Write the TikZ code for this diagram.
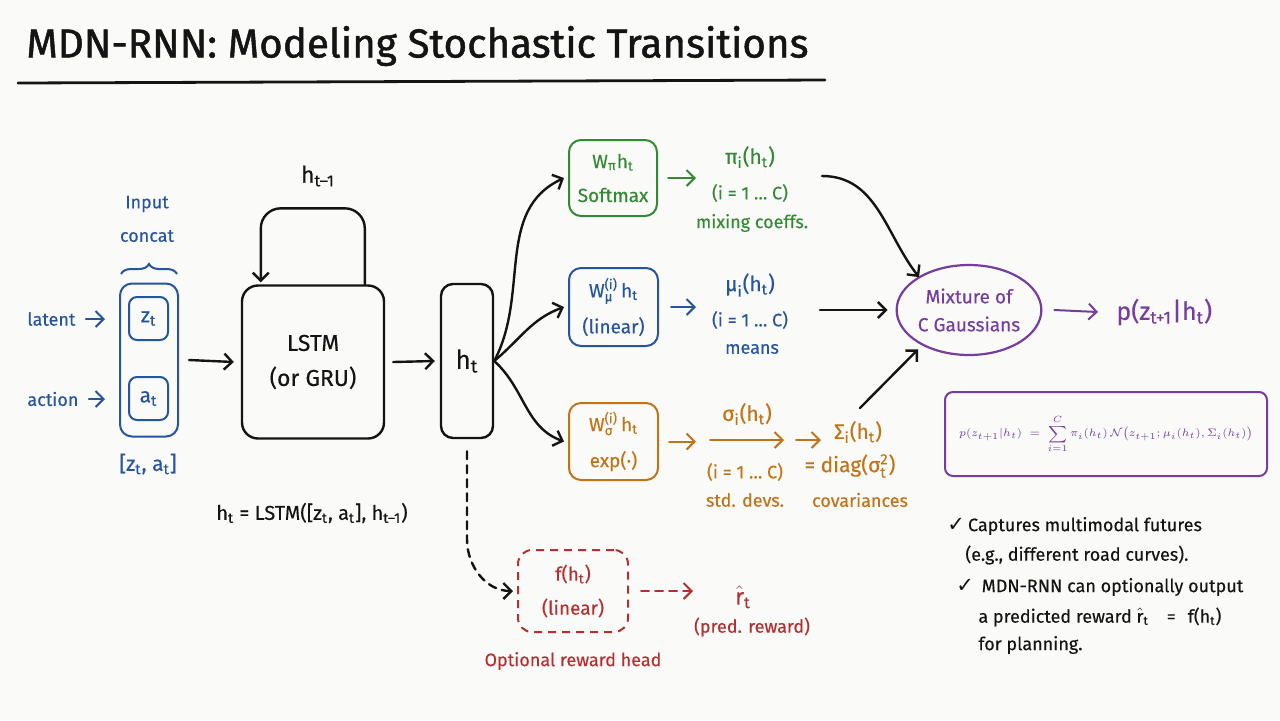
\documentclass[tikz,border=0pt]{standalone}
\usepackage{fontspec}
\usepackage{amsmath}
\setmainfont{Fira Sans}[FakeBold=0.3]
\newfontfamily\titlefont{Fira Sans}[FakeBold=1.2]
\newfontfamily\dejavu{DejaVu Sans}
\usetikzlibrary{arrows.meta,decorations.pathreplacing,shapes.geometric,calc}
\definecolor{bgc}{RGB}{250,250,249}
\definecolor{blueC}{RGB}{38,84,158}
\definecolor{greenC}{RGB}{52,138,52}
\definecolor{orangeC}{RGB}{192,116,22}
\definecolor{redC}{RGB}{180,48,48}
\definecolor{purpleC}{RGB}{118,60,158}
\definecolor{inkC}{RGB}{20,20,20}
\newcommand\ssub[2]{\ensuremath{\text{#1}_{\text{#2}}}}
\newcommand\chk{{\dejavu\fontsize{10.5}{11}\selectfont ✓}}
\begin{document}
\begin{tikzpicture}[x=0.5pt,y=-0.5pt,
  ln/.style={line width=1.2pt,line cap=round,draw=inkC},
  arr/.style={ln,-{Straight Barb[length=4pt,width=8pt]}},
  carr/.style={line width=1pt,line cap=round,draw=#1,-{Straight Barb[length=4pt,width=8pt]}},
  cbox/.style={draw=#1,text=#1,line width=1pt,rounded corners=6pt,align=center,inner sep=0pt},
  lbl/.style={text=#1,font=\fontsize{9}{11}\selectfont,inner sep=0pt},
  body/.style={font=\fontsize{9}{11}\selectfont,inner sep=0pt,text=inkC}
]
\useasboundingbox[fill=bgc] (0,0) rectangle (1280,720);

% title
\node[anchor=west,inner sep=0pt,font=\titlefont\fontsize{20.2}{24}\selectfont,text=inkC] (title) at (26,46) {MDN-RNN: Modeling Stochastic Transitions};
\draw[line width=1.4pt,line cap=round,draw=inkC] (18,83) -- (825,80);

% input block
\node[draw=blueC,line width=1pt,rounded corners=6pt,minimum width=29pt,minimum height=76.5pt,inner sep=0pt] (inbox) at (149,360) {};
\node[cbox=blueC,minimum width=19.5pt,minimum height=21.5pt,rounded corners=4pt,font=\fontsize{10.5}{12}\selectfont] (zt) at (148.5,318.5) {\ssub{z}{t}};
\node[cbox=blueC,minimum width=19.5pt,minimum height=21.5pt,rounded corners=4pt,font=\fontsize{10.5}{12}\selectfont] (at) at (148.5,398.5) {\ssub{a}{t}};
\node[lbl=blueC] (inp) at (147,204) {Input};
\node[lbl=blueC] (conc) at (147,236) {concat};
\draw[blueC,line width=1pt,decorate,decoration={brace,amplitude=5pt}] (121,274) -- (177,274);
\node[lbl=blueC,anchor=west] (lat) at (27,319) {latent};
\node[lbl=blueC,anchor=west] (act) at (27,399) {action};
\draw[carr=blueC] ([xshift=5pt]lat.east) -- ([xshift=-7pt]lat.east -| inbox.west);
\draw[carr=blueC] ([xshift=5pt]act.east) -- ([xshift=-7pt]act.east -| inbox.west);
\node[lbl=blueC,font=\fontsize{10.5}{12}\selectfont] (zat) at (148,464) {[\ssub{z}{t}, \ssub{a}{t}]};

% LSTM
\node[draw=inkC,line width=1.2pt,rounded corners=8pt,minimum width=71pt,minimum height=76.5pt,align=center,inner sep=0pt,font=\fontsize{11.5}{17.5}\selectfont,text=inkC] (lstm) at (313,362) {LSTM\\(or GRU)};
\draw[arr] ([xshift=5pt]inbox.east) -- ([xshift=-3.5pt]lstm.west);
\coordinate (loopA) at ($(lstm.north west)+(124,0)$);
\coordinate (loopB) at ($(lstm.north west)+(20,0)$);
\draw[arr,rounded corners=10pt] (loopA) -- ++(0,-76) -| ([yshift=1pt]loopB);
\node[body,font=\fontsize{11.5}{13}\selectfont] (htm1) at (318,176) {\ssub{h}{t–1}};

% h_t
\node[draw=inkC,line width=1.2pt,rounded corners=6pt,minimum width=26pt,minimum height=77pt,inner sep=0pt,font=\fontsize{13}{15}\selectfont,text=inkC] (ht) at (467,361) {\ssub{h}{t}};
\draw[arr] ([xshift=4pt]lstm.east) -- ([xshift=-2.5pt]ht.west);
\node[body,font=\fontsize{10}{12}\selectfont] (eq) at (312,513) {\ssub{h}{t} = LSTM([\ssub{z}{t}, \ssub{a}{t}], \ssub{h}{t–1})};

% heads
\node[cbox=greenC,minimum width=44pt,minimum height=38pt,font=\fontsize{9.5}{17}\selectfont] (gb) at (613,178) {\ensuremath{\text{W}_{\text{π}}\text{h}_{\text{t}}}\\Softmax};
\node[cbox=blueC,minimum width=44.5pt,minimum height=39pt,font=\fontsize{9.5}{18}\selectfont] (bb) at (613.5,307) {\ensuremath{\text{W}_{\text{μ}}^{\text{(i)}}\,\text{h}_{\text{t}}}\\(linear)};
\node[cbox=orangeC,minimum width=44.5pt,minimum height=38.5pt,font=\fontsize{9.5}{18}\selectfont] (ob) at (613.5,441.5) {\ensuremath{\text{W}_{\text{σ}}^{\text{(i)}}\,\text{h}_{\text{t}}}\\exp(·)};
\draw[arr] (ht.east) to[out=62,in=205] ([xshift=-2pt]gb.west);
\draw[arr] (ht.east) to[out=40,in=200] ([xshift=-2pt]bb.west);
\draw[arr] (ht.east) to[out=-42,in=160] ([xshift=-2pt]ob.west);

% green outputs
\draw[carr=greenC] ([xshift=5pt]gb.east) -- ++(14pt,0);
\node[lbl=greenC,font=\fontsize{10.5}{12}\selectfont] (pi) at (750,157) {\ensuremath{\text{π}_{\text{i}}}(\ssub{h}{t})};
\node[lbl=greenC] (pii) at (750,193) {(i = 1 … C)};
\node[lbl=greenC] (pim) at (752,223) {mixing coeffs.};
% blue outputs
\draw[carr=blueC] ([xshift=6pt]bb.east) -- ++(12.5pt,0);
\node[lbl=blueC,font=\fontsize{10.5}{12}\selectfont] (mu) at (750,285) {\ensuremath{\text{μ}_{\text{i}}}(\ssub{h}{t})};
\node[lbl=blueC] (mui) at (750,320) {(i = 1 … C)};
\node[lbl=blueC] (mum) at (752,349) {means};
% orange outputs
\draw[carr=orangeC] ([xshift=5pt]ob.east) -- ++(13.5pt,0);
\node[lbl=orangeC,font=\fontsize{10.5}{12}\selectfont] (sig) at (747,414) {\ensuremath{\text{σ}_{\text{i}}}(\ssub{h}{t})};
\coordinate (sA) at (710,440);
\coordinate (sB) at (784,440);
\draw[carr=orangeC] (sA) -- (sB);
\node[lbl=orangeC] (sigi) at (745,472) {(i = 1 … C)};
\node[lbl=orangeC] (sigm) at (745,500) {std. devs.};
\coordinate (sC) at (796,440);
\draw[carr=orangeC] (sC) -- ++(12.5pt,0);
\node[lbl=orangeC,font=\fontsize{10.5}{12}\selectfont] (Sig) at (858,432) {\ensuremath{\text{Σ}_{\text{i}}}(\ssub{h}{t})};
\node[lbl=orangeC,font=\fontsize{10.5}{12}\selectfont] (diag) at (850,466) {= diag(\ensuremath{\text{σ}_{\text{t}}^{\text{2}}})};
\node[lbl=orangeC] (cov) at (860,500) {covariances};

% mixture
\node[draw=purpleC,line width=1.1pt,ellipse,minimum width=70.5pt,minimum height=45pt,inner sep=0pt,align=center,text=purpleC,font=\fontsize{9.5}{14}\selectfont] (mix) at (969,310) {Mixture of\\C Gaussians};
\coordinate (m1) at (822,176);
\coordinate (m2) at (820,310);
\coordinate (m3) at (860,408);
\draw[arr] (m1) to[out=0,in=128] ([shift={(-3pt,-2pt)}]mix.140);
\draw[arr] (m2) -- ([xshift=-4pt]mix.west);
\draw[arr] (m3) -- ([shift={(-2pt,-2pt)}]mix.217);
\node[lbl=purpleC,font=\fontsize{12.5}{14}\selectfont,anchor=west] (pz) at (1116,312) {p(\ssub{z}{t+1}|\ssub{h}{t})};
\draw[carr=purpleC] ([xshift=6pt]mix.east) -- ([xshift=-9pt]pz.west);

% formula box
\node[draw=purpleC,line width=1pt,rounded corners=4pt,minimum width=161pt,minimum height=42pt,inner sep=0pt,text=purpleC,font=\fontsize{6.5}{8}\selectfont] (fbox) at (1106,434)
 {\scalebox{0.9}{$\displaystyle p(z_{t+1}|h_t) \;=\; \sum_{i=1}^{C} \pi_i(h_t)\,\mathcal{N}\big(z_{t+1};\mu_i(h_t),\Sigma_i(h_t)\big)$}};

% bullets
\node[body,anchor=west] (b1) at (947,526) {\chk\,Captures multimodal futures};
\node[body,anchor=west] (b2) at (965,555) {(e.g., different road curves).};
\node[body,anchor=west] (b3) at (956,587) {\chk\, MDN-RNN can optionally output};
\node[body,anchor=west] (b4) at (978,617) {a predicted reward \ensuremath{\hat{\text{r}}_{\text{t}}}\hspace{9pt}=\hspace{6pt}f(\ssub{h}{t})};
\node[body,anchor=west] (b5) at (978,645) {for planning.};

% reward head
\node[draw=redC,line width=1pt,dash pattern=on 4pt off 3pt,rounded corners=7pt,minimum width=55pt,minimum height=41pt,align=center,inner sep=0pt,text=redC,font=\fontsize{9.5}{17}\selectfont] (rw) at (573,591) {f(\ssub{h}{t})\\(linear)};
\draw[arr,dash pattern=on 4pt off 3pt] ([yshift=-6pt]ht.south) -- ++(0,88) to[out=-90,in=180] ([xshift=-2pt]rw.west);
\draw[carr=redC,dash pattern=on 4pt off 3pt] ([xshift=6pt]rw.east) -- ++(26pt,0);
\node[lbl=redC,font=\fontsize{11.5}{13}\selectfont] (rhat) at (743,597) {\ensuremath{\hat{\text{r}}_{\text{t}}}};
\node[lbl=redC] (rp) at (752,627) {(pred. reward)};
\node[lbl=redC] (rh) at (573,661) {Optional reward head};
\end{tikzpicture}
\end{document}
